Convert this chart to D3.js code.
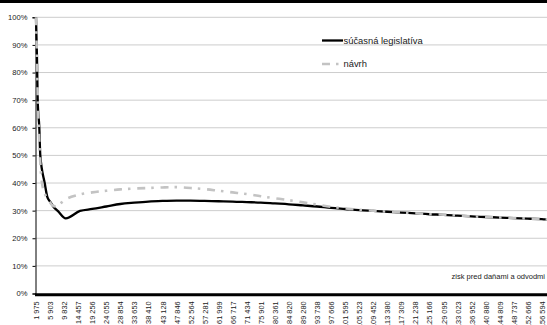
<!DOCTYPE html>
<html>
<head>
<meta charset="utf-8">
<script src="https://cdn.jsdelivr.net/npm/d3@7"></script>
<style>
  html, body { margin: 0; padding: 0; background: #fff; overflow: hidden; }
  text { font-family: "Liberation Sans", Arial, sans-serif; fill: #1a1a1a; }
</style>
</head>
<body>
<svg id="chart" width="547" height="325"></svg>
<script>
// Category labels on the income axis (profit before taxes and levies)
const incomeTicks = [1975, 5903, 9832, 14457, 19256, 24055, 28854, 33653, 38410, 43128,
  47846, 52564, 57281, 61999, 66717, 71434, 75901, 80361, 84820, 89280, 93738, 97666,
  101595, 105523, 109452, 113380, 117309, 121238, 125166, 129095, 133023, 136952,
  140880, 144809, 148737, 152666, 156594];

const rateTicks = [0, 10, 20, 30, 40, 50, 60, 70, 80, 90, 100];

const seriesNames = ["súčasná legislatíva", "návrh"];
const axisTitle = "zisk pred daňami a odvodmi";

// Current legislation: effective burden (%) by income
const currentIncome = [1975, 2255, 2450, 2900, 3175, 4407, 5134, 5903, 6812, 8126, 10359,
  15089, 19256, 24055, 28854, 33653, 38410, 43128, 47846, 52564, 57281, 61999, 66717,
  71434, 75901, 80361, 84820, 89280, 93738, 97666, 101595, 105523, 109452, 113380,
  117309, 121238, 125166, 129095, 133023, 136952, 140880, 144809, 148737, 152666,
  156594, 158100];
const currentRate = [100, 85, 70, 60, 50, 40, 35, 33.3, 31.5, 29.8, 27.2,
  29.9, 30.6, 31.5, 32.4, 32.9, 33.3, 33.5, 33.6, 33.6, 33.5, 33.4, 33.3,
  33.1, 32.9, 32.6, 32.3, 31.9, 31.5, 31.0, 30.6, 30.2, 29.9, 29.6,
  29.3, 29.0, 28.7, 28.5, 28.2, 27.9, 27.7, 27.5, 27.3, 27.1,
  26.9, 26.8];

// Proposal: effective burden (%) by income
const proposalIncome = [1975, 2255, 2534, 2898, 3233, 3652, 4211, 5050, 5903, 6448, 7567,
  8685, 9832, 14457, 19256, 24055, 28854, 33653, 38410, 43128, 47846, 52564, 57281,
  61999, 66717, 71434, 75901, 80361, 84820, 89280, 93738, 97666, 101595, 105523,
  109452, 113380, 117309, 121238, 125166, 129095, 133023, 136952, 140880, 144809,
  148737, 152666, 156594, 158100];
const proposalRate = [100, 84, 68, 55, 46, 40, 37, 34.5, 33, 32, 31.5,
  32.5, 33.7, 35.7, 36.6, 37.2, 37.7, 38.0, 38.2, 38.4, 38.5, 38.2, 37.8,
  37.2, 36.6, 36.0, 35.2, 34.5, 33.8, 33.0, 32.2, 31.4, 30.8, 30.3,
  29.95, 29.65, 29.35, 29.05, 28.75, 28.55, 28.25, 27.95, 27.75, 27.55,
  27.35, 27.15, 26.95, 26.85];

const svg = d3.select("#chart");
const W = 547, H = 325;
const plotLeft = 35.5, firstCat = 36, catStep = 14.05;
const plotTop = 17.3, plotBottom = 293.5;

svg.append("rect").attr("width", W).attr("height", H).attr("fill", "#fff");
// dark band across the top edge
svg.append("rect").attr("x", 0).attr("y", 0).attr("width", W).attr("height", 3).attr("fill", "#000");

// Category axis: each labelled income sits at an evenly spaced slot
const x = d3.scaleLinear()
  .domain(incomeTicks)
  .range(incomeTicks.map((_, i) => firstCat + i * catStep));
const y = d3.scaleLinear().domain([0, 100]).range([plotBottom, plotTop]);

const fmt = d3.formatLocale({ decimal: ",", thousands: " ", grouping: [3], currency: ["", " €"] }).format(",d");

// horizontal dotted gridlines
svg.append("g")
  .selectAll("line")
  .data(rateTicks.filter(d => d > 0))
  .join("line")
  .attr("x1", plotLeft).attr("x2", W)
  .attr("y1", d => y(d)).attr("y2", d => y(d))
  .attr("stroke", "#9a9a9a")
  .attr("stroke-width", 1)
  .attr("stroke-dasharray", "1,1");

// value axis
const yAxis = d3.axisLeft(y).tickValues(rateTicks).tickSize(3).tickPadding(5)
  .tickFormat(d => d + "%");
const gy = svg.append("g").attr("transform", `translate(${plotLeft},0)`).call(yAxis);
gy.select(".domain").attr("stroke", "#000").attr("stroke-width", 1);
gy.selectAll(".tick line").attr("stroke", "#000");
gy.selectAll(".tick text").attr("font-size", "7.6px").attr("fill", "#1a1a1a")
  .style("font-family", "'Liberation Sans', Arial, sans-serif");

// income axis labels, rotated
const xAxis = d3.axisBottom(x).tickValues(incomeTicks).tickSize(0).tickFormat(fmt);
const gx = svg.append("g").attr("transform", `translate(0,${plotBottom})`).call(xAxis);
gx.select(".domain").remove();
gx.selectAll(".tick text")
  .attr("font-size", "7.4px")
  .attr("fill", "#1a1a1a")
  .style("font-family", "'Liberation Sans', Arial, sans-serif")
  .attr("text-anchor", "end")
  .attr("transform", "rotate(-90)")
  .attr("x", -7.8)
  .attr("y", 0)
  .attr("dy", "0.35em");

// thick baseline
svg.append("line")
  .attr("x1", plotLeft - 0.5).attr("x2", W)
  .attr("y1", plotBottom + 1.2).attr("y2", plotBottom + 1.2)
  .attr("stroke", "#000").attr("stroke-width", 3);

const line = d3.line()
  .x(d => x(d[0]))
  .y(d => y(d[1]))
  .curve(d3.curveMonotoneX);

const plot = svg.append("g");
plot.append("path")
  .datum(d3.zip(currentIncome, currentRate))
  .attr("d", line)
  .attr("fill", "none")
  .attr("stroke", "#000")
  .attr("stroke-width", 2.3)
  .attr("stroke-linejoin", "round");

const dashPattern = "8,6,2.5,6.8";
plot.append("path")
  .datum(d3.zip(proposalIncome, proposalRate))
  .attr("d", line)
  .attr("fill", "none")
  .attr("stroke", "#c3c3c3")
  .attr("stroke-width", 2.6)
  .attr("stroke-dasharray", dashPattern);

// legend
const legend = svg.append("g");
const legendRows = [
  { name: seriesNames[0], stroke: "#000", width: 2.3, dash: null, len: 21, y: 40.5 },
  { name: seriesNames[1], stroke: "#c3c3c3", width: 2.6, dash: dashPattern, len: 17, y: 64 }
];
legendRows.forEach(r => {
  legend.append("line")
    .attr("x1", 322).attr("x2", 322 + r.len)
    .attr("y1", r.y).attr("y2", r.y)
    .attr("stroke", r.stroke).attr("stroke-width", r.width)
    .attr("stroke-dasharray", r.dash);
  legend.append("text")
    .attr("x", 343.5).attr("y", r.y).attr("dy", "0.35em")
    .attr("font-size", "9.4px")
    .text(r.name);
});

// axis title
svg.append("text")
  .attr("x", 545).attr("y", 276).attr("dy", "0.35em")
  .attr("text-anchor", "end")
  .attr("font-size", "7.5px")
  .text(axisTitle);
</script>
</body>
</html>
